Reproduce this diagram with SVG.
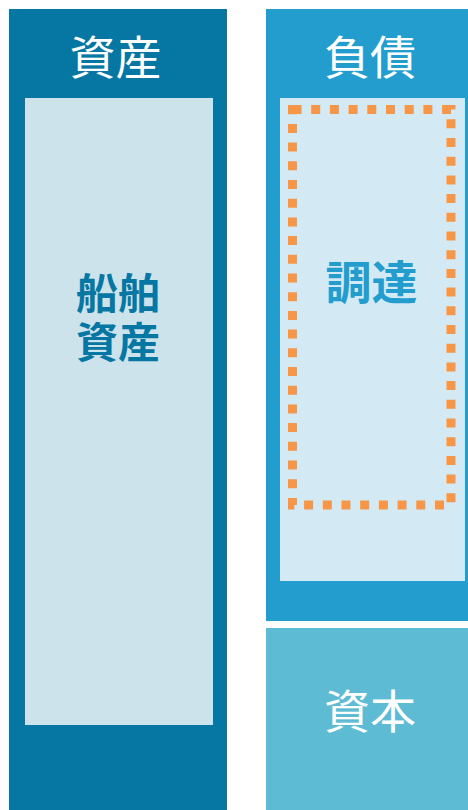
<svg xmlns="http://www.w3.org/2000/svg" width="468" height="810" viewBox="0 0 468 810">
<style>
.t{font-family:"Noto Sans CJK JP","Noto Sans",sans-serif;text-anchor:middle}
.w{fill:#FFFFFF;font-size:46px}
.b{font-weight:bold}
</style>
<rect width="468" height="810" fill="#FFFFFF"/>
<g id="assets">
<rect x="9" y="9" width="218" height="801" fill="#0677A3"/>
<text class="t w" x="115.5" y="73.5">資産</text>
</g>
<g id="ship-assets">
<rect x="25" y="98" width="188" height="627" fill="#CDE3EC"/>
<text class="t b" font-size="42" fill="#0677A3"><tspan x="118" y="308.5">船舶</tspan><tspan x="118" y="358">資産</tspan></text>
</g>
<g id="liabilities">
<rect x="266" y="9" width="202" height="612" fill="#239DCD"/>
<text class="t w" x="370" y="73.5">負債</text>
</g>
<g id="funding">
<rect x="280" y="98" width="185" height="483" fill="#D3EAF4"/>
<rect x="292.5" y="109.5" width="158.5" height="395.5" fill="none" stroke="#F79646" stroke-width="9" stroke-dasharray="9 9.7"/>
<text class="t b" x="371.5" y="299" font-size="46" fill="#239DCD">調達</text>
</g>
<g id="capital">
<rect x="266" y="628" width="202" height="182" fill="#5DBBD3"/>
<text class="t w" x="370" y="728">資本</text>
</g>
<g id="connectors"></g>
</svg>
